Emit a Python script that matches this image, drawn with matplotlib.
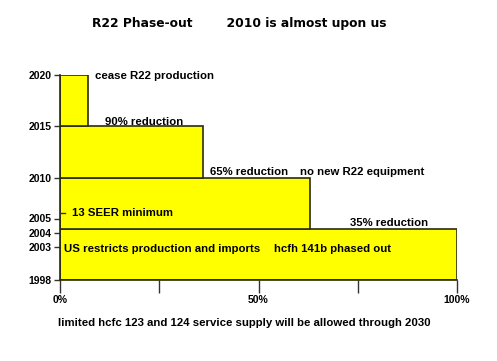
import matplotlib
matplotlib.use("Agg")
import matplotlib.pyplot as plt

# Data
levels = [0, 1, 2, 3]            # stacked step bands (1998-2004, 2004-2010, 2010-2015, 2015-2020)
allowed_pct = [100, 63, 36, 7]   # remaining allowed production, % of baseline
year_labels = ['1998', '2003', '2004', '2005', '2010', '2015', '2020']
year_pos = [0, 0.65, 0.92, 1.2, 2, 3, 4]
x_ticks = [0, 25, 50, 75, 100]
x_tick_labels = ['0%', '', '50%', '', '100%']

notes = [
    ('cease R22 production', 8.8, 3.98),
    ('90% reduction', 11.3, 3.08),
    ('65% reduction', 37.8, 2.1),
    ('no new R22 equipment', 60.5, 2.1),
    ('35% reduction', 73.0, 1.12),
    ('13 SEER minimum', 3.0, 1.3),
    ('US restricts production and imports', 1.0, 0.61),
    ('hcfh 141b phased out', 54.0, 0.61),
]

fig = plt.figure(figsize=(4.97, 3.61), dpi=100)
ax = fig.add_axes([60/497, 1-280/361, 397/497, 205/361])

ax.barh(levels, allowed_pct, height=1, align='edge', left=0,
        color='#FFFF00', edgecolor='#2b2b10', linewidth=1.2, zorder=2)

ax.set_xlim(0, 100)
ax.set_ylim(0, 4)
ax.set_xticks(x_ticks)
ax.set_xticklabels(x_tick_labels, fontsize=7.5, fontweight='bold', family='Liberation Sans')
ax.set_yticks(year_pos)
ax.set_yticklabels(year_labels, fontsize=7.5, fontweight='bold', family='Liberation Sans')
ax.tick_params(axis='x', length=9, width=1, color='#333333', pad=2)
ax.tick_params(axis='y', length=4, width=1, color='#333333', pad=2)
for s in ['top', 'right']:
    ax.spines[s].set_visible(False)
ax.spines['left'].set_color('#2b2b10')
ax.spines['bottom'].set_color('#2b2b10')
ax.spines['left'].set_linewidth(1.2)
ax.spines['bottom'].set_linewidth(1.2)

# small inner tick at 2005
ax.plot([0, 1.3], [1.31, 1.31], color='#333333', lw=1, zorder=3, clip_on=False)

for txt, x, y in notes:
    ax.text(x, y, txt, fontsize=8.2, fontweight='bold', family='Liberation Sans',
            ha='left', va='center', zorder=4)

fig.text(92/497, 1-24/361, 'R22 Phase-out        2010 is almost upon us',
         fontsize=8.8, fontweight='bold', family='DejaVu Sans', ha='left', va='center')
fig.text(244/497, 1-323/361, 'limited hcfc 123 and 124 service supply will be allowed through 2030',
         fontsize=8.2, fontweight='bold', family='Liberation Sans', ha='center', va='center')

fig.savefig('out.png', dpi=100)
